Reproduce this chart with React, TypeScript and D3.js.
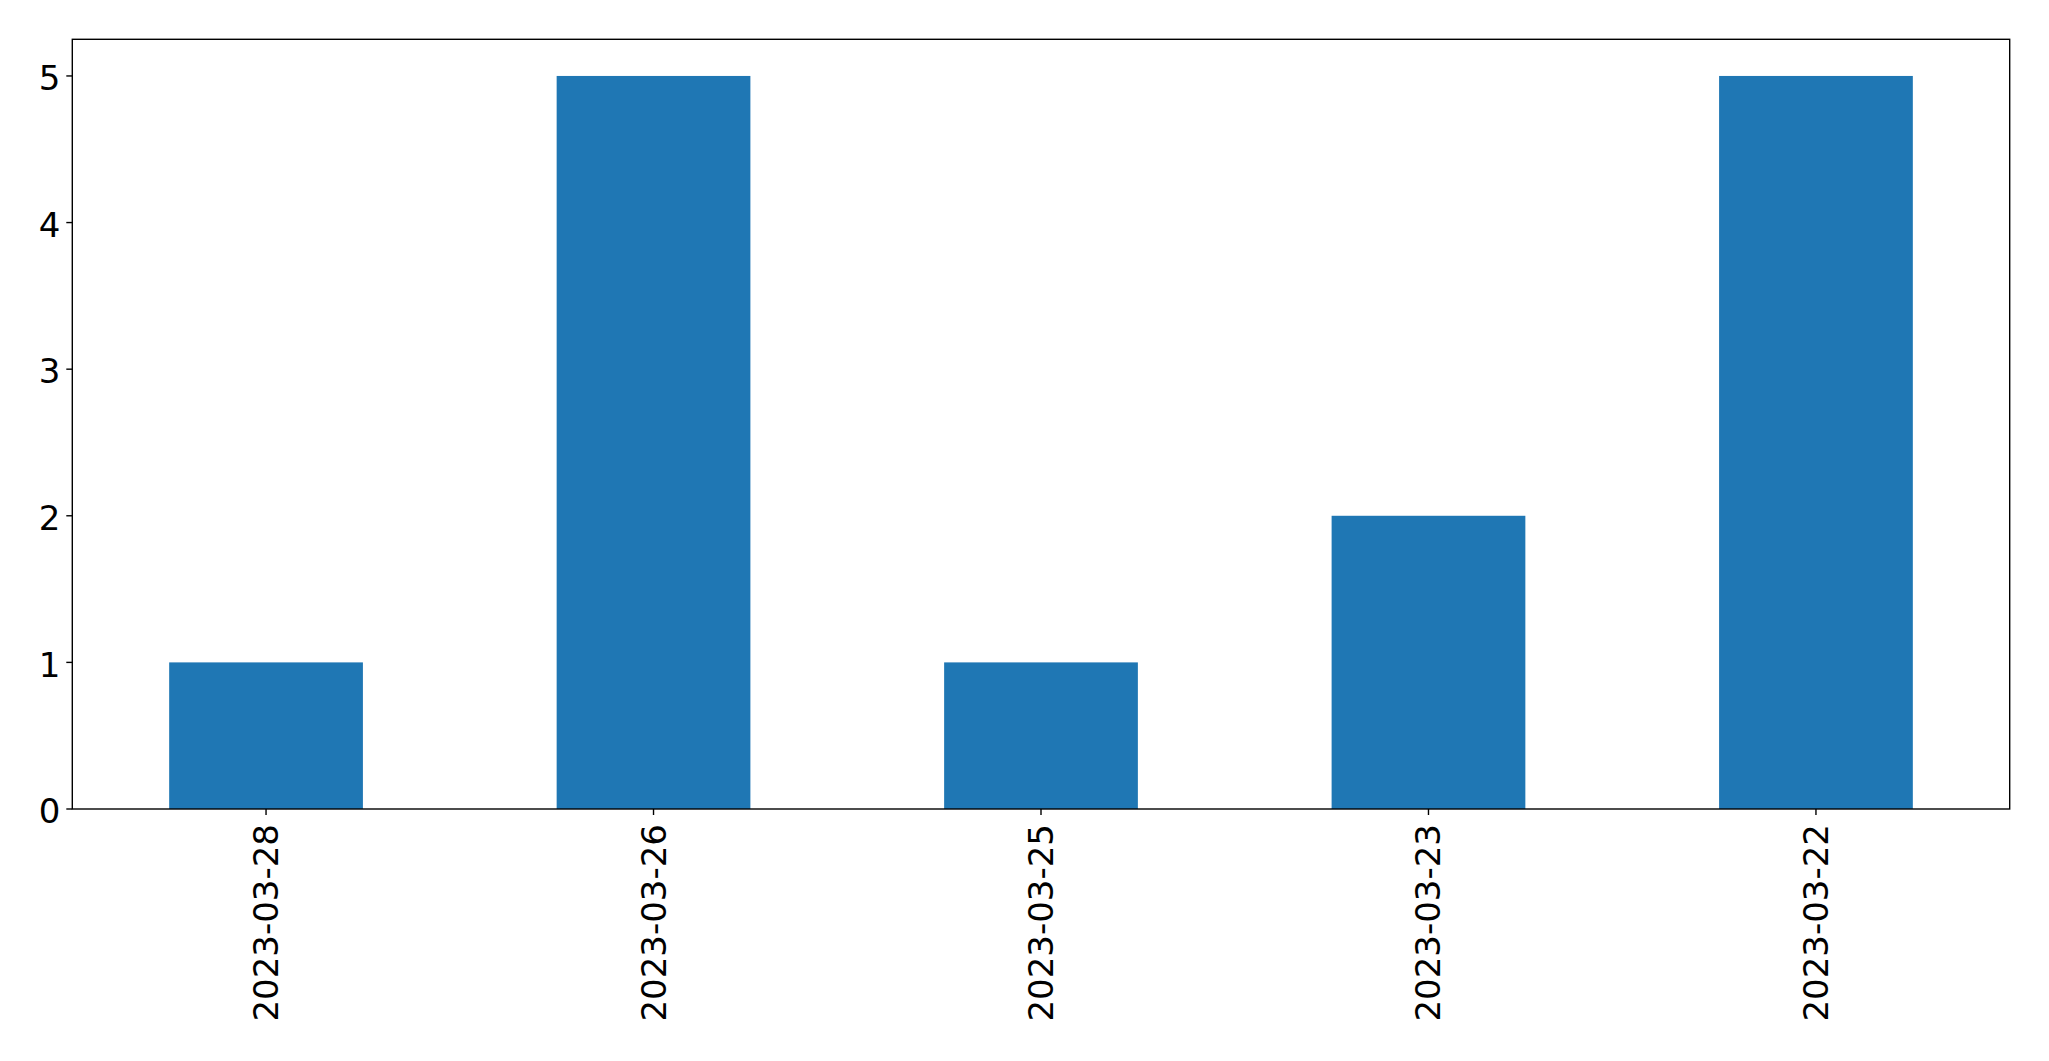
import React from "react";
import * as d3 from "d3";

const categories = ["2023-03-28", "2023-03-26", "2023-03-25", "2023-03-23", "2023-03-22"];
const counts = [1, 5, 1, 2, 5];
const yTicks = [0, 1, 2, 3, 4, 5];

const W = 2049;
const H = 1061;
const left = 72.3;
const right = 2009.7;
const top = 39.3;
const bottom = 809;
const fontSize = 34;
const tickLen = 6;
const pad = 6;

export default function App() {
  const x = d3.scaleLinear().domain([-0.5, categories.length - 0.5]).range([left, right]);
  const y = d3.scaleLinear().domain([0, 5.25]).range([bottom, top]);
  const barW = x(0.25) - x(-0.25);
  return (
    <svg width={W} height={H} style={{ position: "absolute", left: 0, top: 0, background: "#fff" }}
      fontFamily="DejaVu Sans" fontSize={fontSize}>
      <rect x={0} y={0} width={W} height={H} fill="#fff" />
      {categories.map((c, i) => (
        <rect key={c} x={x(i) - barW / 2} y={y(counts[i])} width={barW} height={y(0) - y(counts[i])} fill="#1f77b4" />
      ))}
      <rect x={left} y={top} width={right - left} height={bottom - top} fill="none" stroke="#000" strokeWidth={1.4} />
      {yTicks.map((t) => (
        <g key={t}>
          <line x1={left - tickLen} x2={left} y1={y(t)} y2={y(t)} stroke="#000" strokeWidth={1.4} />
          <text x={left - tickLen - pad} y={y(t)} dy="0.42em" textAnchor="end" fill="#000">{t}</text>
        </g>
      ))}
      {categories.map((c, i) => (
        <g key={c}>
          <line x1={x(i)} x2={x(i)} y1={bottom} y2={bottom + tickLen} stroke="#000" strokeWidth={1.4} />
          <text transform={`translate(${x(i)},${bottom + tickLen + pad + 3}) rotate(-90)`} textAnchor="end"
            dominantBaseline="central" fill="#000">{c}</text>
        </g>
      ))}
    </svg>
  );
}
